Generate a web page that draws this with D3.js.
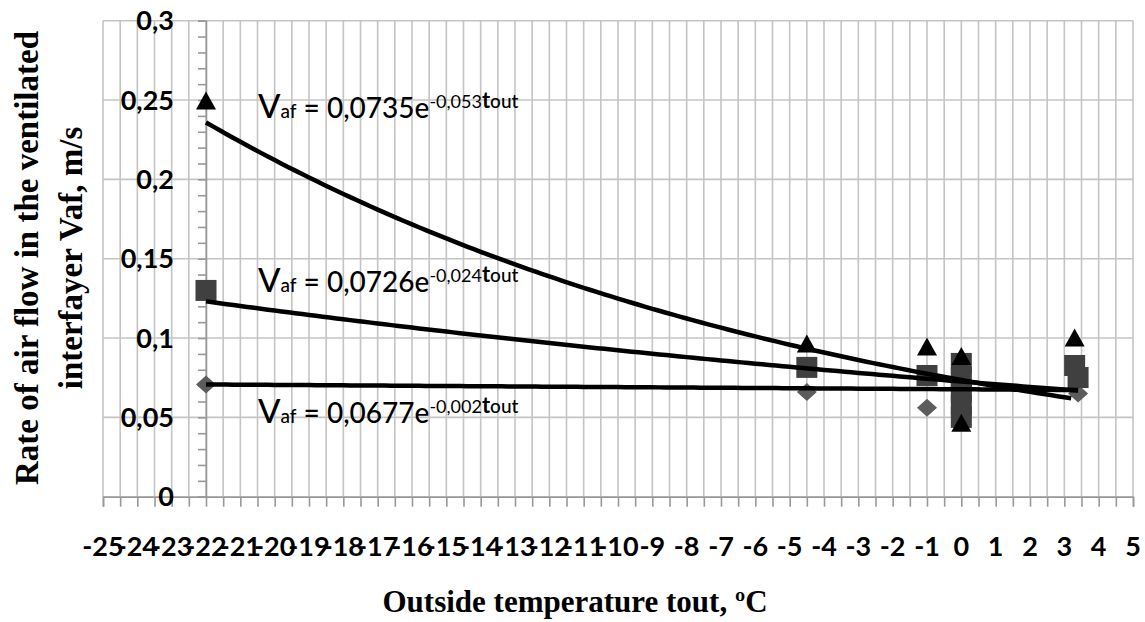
<!DOCTYPE html>
<html>
<head>
<meta charset="utf-8">
<script src="https://cdn.jsdelivr.net/npm/d3@7"></script>
<style>
  body { margin: 0; background: #fff; }
  svg { display: block; }
</style>
</head>
<body>
<svg id="chart"></svg>
<script>
const triX = [-22, -4.5, -1, 0, 0, 3.3];
const triY = [0.249, 0.096, 0.094, 0.088, 0.046, 0.0997];
const sqX = [-22, -4.5, -1, 0, 0, 0, 0, 0, 3.3, 3.4];
const sqY = [0.130, 0.0815, 0.0764, 0.084, 0.075, 0.066, 0.058, 0.050, 0.0827, 0.0751];
const diaX = [-22, -4.5, -1, 0, 3.4];
const diaY = [0.0707, 0.066, 0.056, 0.070, 0.065];

// exponential trendlines V = a * e^(b t), as printed on the chart
const fitA = [0.0735, 0.0726, 0.0677];
const fitB = [-0.053, -0.024, -0.002];
const fitA_lbl = ["0,0735", "0,0726", "0,0677"];
const fitB_lbl = ["-0,053", "-0,024", "-0,002"];

const xTicks = d3.range(-25, 6);
const yTicks = [0, 0.05, 0.1, 0.15, 0.2, 0.25, 0.3];

const width = 1145, height = 622;
const margin = {left: 103, right: 12, top: 20.7, bottom: 125.3};

const svg = d3.select("#chart")
    .attr("width", width)
    .attr("height", height);

const x = d3.scaleLinear().domain([-25, 5]).range([margin.left, width - margin.right]);
const y = d3.scaleLinear().domain([0, 0.3]).range([height - margin.bottom, margin.top]);

const tickFont = "Lato, 'Open Sans', sans-serif";

// grid
const grid = svg.append("g").attr("stroke", "#c4c4c4").attr("stroke-width", 1.6);
grid.selectAll("line.v")
    .data(d3.range(-25, 5.01, 0.5))
    .join("line")
    .attr("class", "v")
    .attr("x1", d => x(d)).attr("x2", d => x(d))
    .attr("y1", y(0.3)).attr("y2", y(0));
grid.selectAll("line.h")
    .data(yTicks)
    .join("line")
    .attr("class", "h")
    .attr("x1", x(-25)).attr("x2", x(5))
    .attr("y1", d => y(d)).attr("y2", d => y(d));

// x axis line at bottom with ticks below
const xAxis = svg.append("g")
    .attr("transform", `translate(0,${y(0)})`)
    .call(d3.axisBottom(x).tickValues(d3.range(-25, 5.01, 0.5)).tickSize(10).tickFormat(""));
xAxis.select(".domain").attr("stroke", "#999").attr("stroke-width", 1.6);
xAxis.selectAll(".tick line").attr("stroke", "#999").attr("stroke-width", 1.6);

svg.append("g")
    .selectAll("text")
    .data(xTicks)
    .join("text")
    .attr("x", d => x(d))
    .attr("y", 556)
    .attr("text-anchor", "middle")
    .style("font", `bold 27px ${tickFont}`)
    .text(d => d);

// y axis crosses at t = -22
const yAxis = svg.append("g")
    .attr("transform", `translate(${x(-22)},0)`)
    .call(d3.axisLeft(y).tickValues(d3.range(0, 0.3001, 0.01)).tickSize(8).tickFormat(""));
yAxis.select(".domain").attr("stroke", "#999").attr("stroke-width", 1.6);
yAxis.selectAll(".tick line").attr("stroke", "#999").attr("stroke-width", 1.6);

const fmtComma = d => d3.format("")(d).replace(".", ",");
svg.append("g")
    .selectAll("text")
    .data(yTicks)
    .join("text")
    .attr("x", 174)
    .attr("y", d => y(d))
    .attr("dy", "0.36em")
    .attr("text-anchor", "end")
    .style("font", `bold 27px ${tickFont}`)
    .text(d => fmtComma(+d.toFixed(2)));

// markers
const mk = svg.append("g");
mk.selectAll("path.dia")
    .data(d3.zip(diaX, diaY))
    .join("path")
    .attr("class", "dia")
    .attr("transform", d => `translate(${x(d[0])},${y(d[1])})`)
    .attr("d", "M0,-9L10,0L0,9L-10,0Z")
    .attr("fill", "#5c5c5c");
mk.selectAll("rect.sq")
    .data(d3.zip(sqX, sqY))
    .join("rect")
    .attr("class", "sq")
    .attr("x", d => x(d[0]) - 10.5)
    .attr("y", d => y(d[1]) - 10.5)
    .attr("width", 21).attr("height", 21)
    .attr("fill", "#404040");
mk.selectAll("path.tri")
    .data(d3.zip(triX, triY))
    .join("path")
    .attr("class", "tri")
    .attr("transform", d => `translate(${x(d[0])},${y(d[1])})`)
    .attr("d", "M0,-10L10,8L-10,8Z")
    .attr("fill", "#000");

// trendlines, drawn from min to max x of each series
const fitX = [
    [d3.min(triX), d3.max(triX)],
    [d3.min(sqX), d3.max(sqX)],
    [d3.min(diaX), d3.max(diaX)]
];
const line = d3.line().x(d => x(d[0])).y(d => y(d[1]));
fitA.forEach((a, i) => {
    const [x0, x1] = fitX[i];
    const pts = d3.range(x0, x1 + 0.001, 0.2).map(t => [t, a * Math.exp(fitB[i] * t)]);
    svg.append("path")
        .attr("d", line(pts))
        .attr("fill", "none")
        .attr("stroke", "#000")
        .attr("stroke-width", 4.5);
});

// equation labels
const lblPos = [[258, 118], [258, 292], [258, 423]];
lblPos.forEach((p, i) => {
    const t = svg.append("text")
        .attr("x", p[0]).attr("y", p[1])
        .style("font-family", tickFont)
        .attr("fill", "#000");
    t.append("tspan").attr("font-size", 33).attr("font-weight", 500).text("V");
    t.append("tspan").attr("font-size", 19).attr("font-weight", 500).text("af");
    t.append("tspan").attr("font-size", 28).attr("font-weight", 500).text(` = ${fitA_lbl[i]}e`);
    t.append("tspan").attr("font-size", 18).attr("dy", -10).text(fitB_lbl[i]);
    t.append("tspan").attr("font-size", 22).attr("font-weight", "bold").text("t");
    t.append("tspan").attr("font-size", 19).attr("font-weight", 500).text("out");
});

// axis titles
svg.append("text")
    .attr("x", 575).attr("y", 612)
    .attr("text-anchor", "middle")
    .style("font", "bold 31px 'Liberation Serif', 'Times New Roman', serif")
    .text("Outside temperature tout, ºC");

const yt = svg.append("text")
    .attr("transform", `translate(38,258) rotate(-90)`)
    .attr("text-anchor", "middle")
    .style("font", "bold 33px 'Liberation Serif', 'Times New Roman', serif");
yt.append("tspan").attr("x", 0).attr("y", 0).text("Rate of air flow in the ventilated");
yt.append("tspan").attr("x", 0).attr("y", 44).text("interfayer Vaf, m/s");
</script>
</body>
</html>
